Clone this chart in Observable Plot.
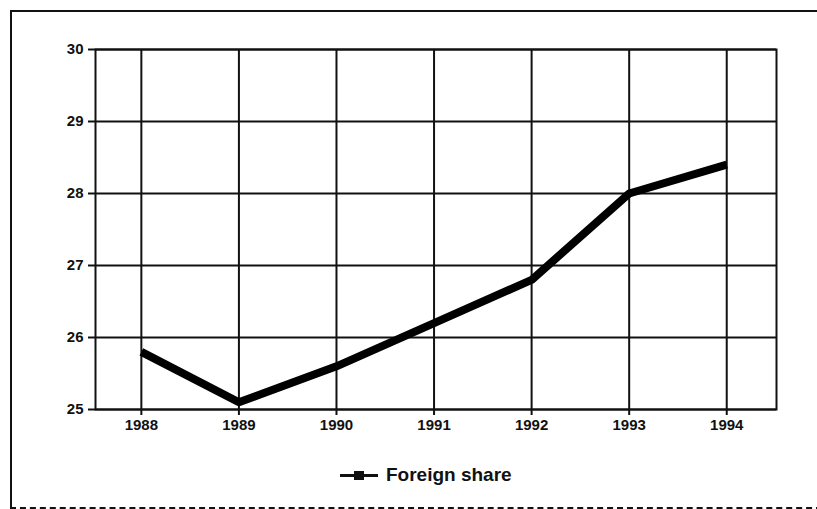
<!DOCTYPE html>
<html><head><meta charset="utf-8">
<script src="https://cdn.jsdelivr.net/npm/d3@7"></script>
<script src="https://cdn.jsdelivr.net/npm/@observablehq/plot@0.6"></script>
<style>
body{margin:0;background:#fff;font-family:"Liberation Sans",Arial,sans-serif;}
#wrap{position:relative;width:817px;height:509px;overflow:hidden;}
#border{position:absolute;left:10px;top:10px;width:820px;height:495px;border-left:2px solid #111;border-top:2px solid #111;border-bottom:2px dashed #111;border-right:none;}
#legend{position:absolute;left:340px;top:464px;display:flex;align-items:center;font-weight:bold;font-size:19px;color:#111;}
#legend .sym{position:relative;width:38px;height:14px;margin-right:8px;}
#legend .sym .ln{position:absolute;left:0;top:6px;width:38px;height:3px;background:#111;}
#legend .sym .sq{position:absolute;left:14px;top:3px;width:10px;height:9px;background:#111;}
#chart svg text{font-size:15px !important;font-weight:bold;}
</style></head>
<body><div id="wrap"><div id="border"></div><div id="chart"></div>
<div id="legend"><div class="sym"><div class="ln"></div><div class="sq"></div></div><span>Foreign share</span></div></div>
<script>
const years = [1988, 1989, 1990, 1991, 1992, 1993, 1994];
const foreignShare = [25.8, 25.1, 25.6, 26.2, 26.8, 28.0, 28.4];
const yTicks = [25, 26, 27, 28, 29, 30];
const data = years.map((y, i) => ({year: y, value: foreignShare[i]}));

const chart = Plot.plot({
  width: 817, height: 509,
  marginLeft: 95, marginRight: 41, marginTop: 49, marginBottom: 100,
  style: {fontFamily: '"Liberation Sans", Arial, sans-serif', fontSize: "15px", fontWeight: "bold", color: "#111", background: "transparent"},
  x: {domain: [1987.53, 1994.51]},
  y: {domain: [25, 30]},
  marks: [
    Plot.gridX(years, {stroke: "#111", strokeOpacity: 1, strokeWidth: 2}),
    Plot.gridY(yTicks, {stroke: "#111", strokeOpacity: 1, strokeWidth: 2}),
    Plot.frame({stroke: "#111", strokeWidth: 2}),
    Plot.axisX(years, {tickFormat: d => String(d), tickSize: 6, tickPadding: 4, stroke: "#111", strokeWidth: 2, label: null, fill: "#111"}),
    Plot.axisY(yTicks, {tickFormat: d => String(d), tickSize: 7, tickPadding: 5, stroke: "#111", strokeWidth: 2, label: null, fill: "#111"}),
    Plot.line(data, {x: "year", y: "value", stroke: "#000", strokeWidth: 8, strokeLinejoin: "round", strokeLinecap: "butt"})
  ]
});
document.getElementById("chart").appendChild(chart);
</script></body></html>
